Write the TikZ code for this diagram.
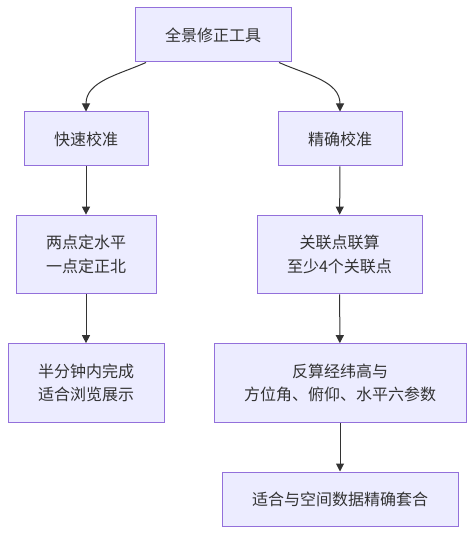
\documentclass[tikz,border=0pt]{standalone}
\usepackage{fontspec}
\setmainfont{Noto Sans CJK SC}
\usetikzlibrary{arrows.meta}
\definecolor{boxfill}{HTML}{ECECFF}
\definecolor{boxline}{HTML}{9370DB}
\definecolor{ink}{HTML}{333333}

\begin{document}
\begin{tikzpicture}[x=0.75pt,y=0.75pt,yscale=-1,xscale=1,
    stepbox/.style={draw=boxline, fill=boxfill, line width=0.75pt, text=ink,
        font=\fontsize{12}{17.5}\selectfont, align=center, inner sep=0pt, minimum height=40.5pt},
    twoline/.style={stepbox, minimum height=59pt},
    link/.style={draw=ink, line width=0.75pt, -{Triangle[length=6pt,width=6pt]}}]
        \useasboundingbox (0,0) rectangle (474,534);
        % Boxes
        \node [stepbox, minimum width=117pt] (tool) at (213,35) {全景修正工具};
        \node [stepbox, minimum width=93pt] (fast) at (86,139) {快速校准};
        \node [stepbox, minimum width=93pt] (exact) at (340,139) {精确校准};
        \node [twoline, minimum width=105pt] (level) at (86,254.5) {两点定水平\\一点定正北};
        \node [twoline, minimum width=123.75pt] (joint) at (339.5,254.5) {关联点联算\\至少4个关联点};
        \node [twoline, minimum width=117pt] (quick) at (86,383) {半分钟内完成\\适合浏览展示};
        \node [twoline, minimum width=189pt] (solve) at (340,383) {反算经纬高与\\方位角、俯仰、水平六参数};
        \node [stepbox, minimum width=177pt] (fit) at (340,499) {适合与空间数据精确套合};
        % Links
        \draw [link] ([xshift=-50.25pt]tool.south) to[out=156,in=-90] (fast.north);
        \draw [link] ([xshift=49.5pt]tool.south) to[out=24,in=-90] (exact.north);
        \draw [link] (fast) -- (level);
        \draw [link] (level) -- (quick);
        \draw [link] (exact) -- (joint);
        \draw [link] (joint) -- (solve);
        \draw [link] (solve) -- (fit);
\end{tikzpicture}
\end{document}
